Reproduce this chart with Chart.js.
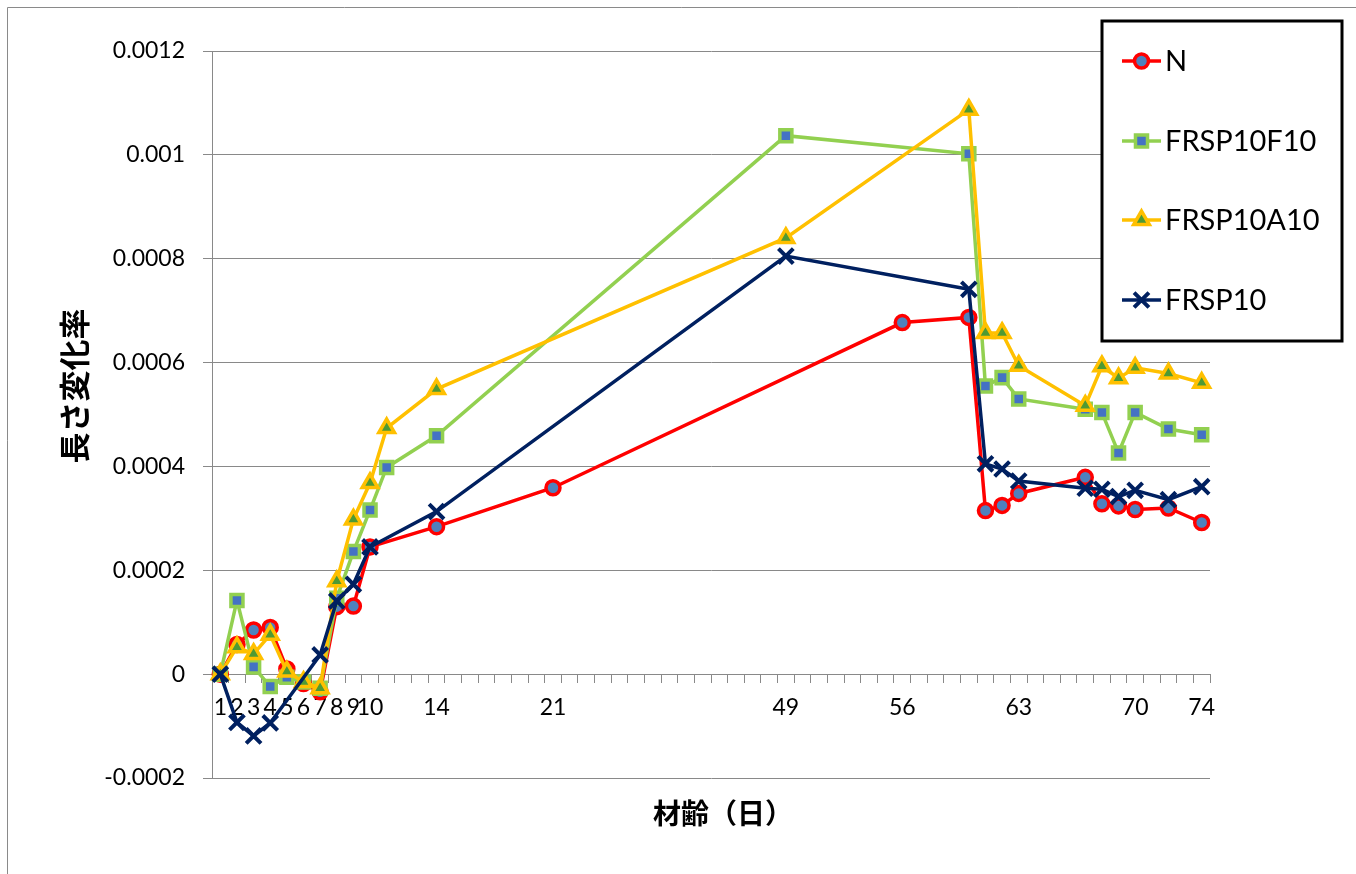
<!DOCTYPE html>
<html>
<head>
<meta charset="utf-8">
<script src="https://cdn.jsdelivr.net/npm/chart.js@4/dist/chart.umd.min.js"></script>
<style>
  html, body { margin: 0; padding: 0; background: #ffffff; }
  #wrap { width: 1356px; height: 874px; }
</style>
</head>
<body>
<div id="wrap"><canvas id="c" width="1356" height="874"></canvas></div>
<script>
// Age slots on the category axis (days); the slots between 21 and 49 carry no label.
const ageCategories = [
  '1','2','3','4','5','6','7','8','9','10','11','12','13','14','15','16','17','18','19','20','21',
  '','','','','','','','','','','','','',
  '49','50','51','52','53','54','55','56','57','58','59','60','61','62','63','64','65','66','67','68','69','70','71','72','73','74'
];
// Ages that get a printed tick label
const labelledAges = ['1','2','3','4','5','6','7','8','9','10','14','21','49','56','63','70','74'];

// Series: measurement ages and length-change ratios
const seriesNames = ['N', 'FRSP10F10', 'FRSP10A10', 'FRSP10'];

const agesN = ['1','2','3','4','5','6','7','8','9','10','14','21','56','60','61','62','63','67','68','69','70','72','74'];
const valuesN = [0, 0.000057, 0.000085, 0.000090, 0.000010, -0.000018, -0.000034, 0.000130, 0.000131, 0.000245, 0.000284, 0.000359,
  0.000677, 0.000687, 0.000315, 0.000325, 0.000348, 0.000379, 0.000328, 0.000324, 0.000317, 0.000320, 0.000292];

const agesF10 = ['1','2','3','4','5','6','7','8','9','10','11','14','49','60','61','62','63','67','68','69','70','72','74'];
const valuesF10 = [0, 0.000142, 0.000014, -0.000024, -0.000006, -0.000015, -0.000027, 0.000146, 0.000236, 0.000316, 0.000398, 0.000459,
  0.001037, 0.001002, 0.000555, 0.000571, 0.000530, 0.000510, 0.000504, 0.000426, 0.000504, 0.000472, 0.000461];

const agesA10 = ['1','2','3','4','5','6','7','8','9','10','11','14','49','60','61','62','63','67','68','69','70','72','74'];
const valuesA10 = [0, 0.000052, 0.000039, 0.000076, 0.000005, -0.000015, -0.000027, 0.000179, 0.000298, 0.000368, 0.000474, 0.000549,
  0.000840, 0.001087, 0.000657, 0.000657, 0.000594, 0.000517, 0.000593, 0.000570, 0.000590, 0.000579, 0.000561];

const agesP10 = ['1','2','3','4','7','8','9','10','14','49','60','61','62','63','67','68','69','70','72','74'];
const valuesP10 = [0, -0.000093, -0.000119, -0.000094, 0.000037, 0.000141, 0.000173, 0.000245, 0.000313,
  0.000805, 0.000741, 0.000405, 0.000395, 0.000372, 0.000358, 0.000356, 0.000342, 0.000354, 0.000336, 0.000361];

const yMin = -0.0002, yMax = 0.0012, yStep = 0.0002;

const toPoints = (ages, vals) => ages.map((a, i) => ({ x: a, y: vals[i] }));

const GRID = '#898989';
const TICK_FONT = { family: 'Lato, "Open Sans", sans-serif', size: 23 };

const styles = [
  { color: '#FF0000', fill: '#4F81BD', pointStyle: 'circle',   radius: 7,   bw: 3.5 },
  { color: '#92D050', fill: '#4472C4', pointStyle: 'rect',     radius: 8.5, bw: 3.5 },
  { color: '#FFC000', fill: '#4E9A34', pointStyle: 'triangle', radius: 9,   bw: 3.5 },
  { color: '#002060', fill: '#002060', pointStyle: 'crossRot', radius: 10.5, bw: 4 }
];
const seriesPoints = [
  toPoints(agesN, valuesN),
  toPoints(agesF10, valuesF10),
  toPoints(agesA10, valuesA10),
  toPoints(agesP10, valuesP10)
];

const datasets = seriesNames.map((name, i) => ({
  label: name,
  data: seriesPoints[i],
  borderColor: styles[i].color,
  borderWidth: 3.5,
  pointStyle: styles[i].pointStyle,
  pointRadius: styles[i].radius,
  pointHoverRadius: styles[i].radius,
  pointBorderWidth: styles[i].bw,
  pointBorderColor: styles[i].color,
  pointBackgroundColor: styles[i].fill,
  tension: 0,
  fill: false,
  order: seriesNames.length - i   // later series are drawn on top
}));

// White background plus the outer frame edges
const framePlugin = {
  id: 'frame',
  beforeDraw(chart) {
    const ctx = chart.ctx;
    ctx.save();
    ctx.fillStyle = '#ffffff';
    ctx.fillRect(0, 0, chart.width, chart.height);
    ctx.strokeStyle = '#8a8a8a';
    ctx.lineWidth = 1;
    ctx.beginPath();
    ctx.moveTo(7.5, chart.height);
    ctx.lineTo(7.5, 7.5);
    ctx.lineTo(chart.width, 7.5);
    ctx.stroke();
    ctx.restore();
  }
};

// Axis titles
const titlePlugin = {
  id: 'axisTitles',
  afterDraw(chart) {
    const ctx = chart.ctx;
    ctx.save();
    ctx.fillStyle = '#000000';
    ctx.textAlign = 'center';
    ctx.textBaseline = 'middle';
    ctx.font = 'bold 28px "Noto Sans CJK JP", sans-serif';
    ctx.fillText('材齢（日）', 723, 813);
    ctx.translate(74, 386);
    ctx.rotate(-Math.PI / 2);
    ctx.font = 'bold 31px "Noto Sans CJK JP", sans-serif';
    ctx.fillText('長さ変化率', 0, 0);
    ctx.restore();
  }
};

// Boxed legend in the upper right, each entry showing line + marker
const legendPlugin = {
  id: 'boxLegend',
  afterDraw(chart) {
    const ctx = chart.ctx;
    const box = { x: 1102, y: 21, w: 240, h: 320 };
    const rowY = [61, 141, 220, 300];
    ctx.save();
    ctx.fillStyle = '#ffffff';
    ctx.fillRect(box.x, box.y, box.w, box.h);
    ctx.strokeStyle = '#000000';
    ctx.lineWidth = 3;
    ctx.strokeRect(box.x, box.y, box.w, box.h);
    chart.data.datasets.forEach((ds, i) => {
      const y = rowY[i];
      ctx.strokeStyle = ds.borderColor;
      ctx.lineWidth = 3.5;
      ctx.beginPath();
      ctx.moveTo(1122, y);
      ctx.lineTo(1161, y);
      ctx.stroke();
      ctx.fillStyle = ds.pointBackgroundColor;
      ctx.strokeStyle = ds.pointBorderColor;
      ctx.lineWidth = ds.pointBorderWidth;
      Chart.helpers.drawPoint(ctx, {
        pointStyle: ds.pointStyle, rotation: 0, radius: ds.pointRadius, borderWidth: ds.pointBorderWidth
      }, 1141.5, y);
      ctx.fillStyle = '#000000';
      ctx.font = '29px Lato, "Open Sans", sans-serif';
      ctx.textAlign = 'left';
      ctx.textBaseline = 'middle';
      ctx.fillText(ds.label, 1165, y + 1);
    });
    ctx.restore();
  }
};

new Chart(document.getElementById('c'), {
  type: 'line',
  data: { labels: ageCategories, datasets },
  plugins: [framePlugin, titlePlugin, legendPlugin],
  options: {
    responsive: false,
    devicePixelRatio: 1,
    animation: false,
    layout: { padding: { left: 0, right: 146, top: 51, bottom: 96 } },
    plugins: { legend: { display: false }, tooltip: { enabled: false }, title: { display: false } },
    scales: {
      x: {
        type: 'category',
        position: { y: 0 },
        offset: true,
        grid: { display: true, drawOnChartArea: false, drawTicks: true, tickLength: 8, offset: true, color: GRID, lineWidth: 1 },
        border: { display: true, color: GRID, width: 1 },
        ticks: {
          autoSkip: false,
          maxRotation: 0,
          minRotation: 0,
          padding: 12,
          color: '#000000',
          font: TICK_FONT,
          callback: (value, index) => labelledAges.includes(ageCategories[index]) ? ageCategories[index] : ''
        }
      },
      y: {
        type: 'linear',
        min: yMin,
        max: yMax,
        afterFit: (scale) => { scale.width = 212; },
        grid: { color: GRID, lineWidth: 1, drawTicks: true, tickLength: 9 },
        border: { display: true, color: GRID, width: 1 },
        ticks: {
          stepSize: yStep,
          padding: 18,
          color: '#000000',
          font: TICK_FONT,
          callback: (v) => String(+Number(v).toFixed(4))
        }
      }
    }
  }
});
</script>
</body>
</html>
